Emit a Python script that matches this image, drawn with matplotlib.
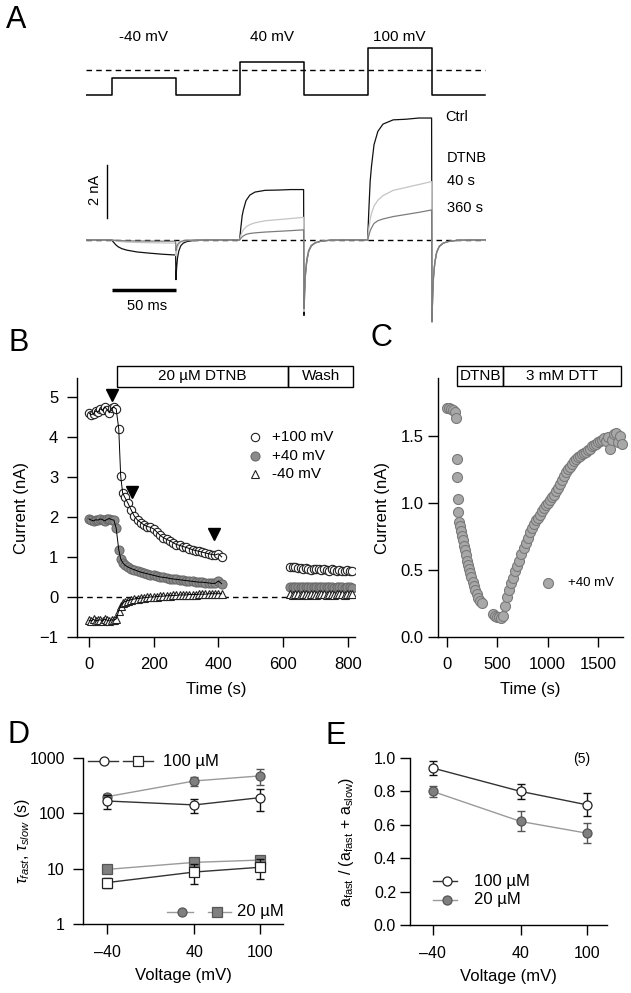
import numpy as np
import matplotlib
matplotlib.use('Agg')
from matplotlib import pyplot as plt
from matplotlib.patches import Rectangle

plt.rcParams['font.family'] = ['Liberation Sans', 'DejaVu Sans']
plt.rcParams['mathtext.fontset'] = 'custom'
plt.rcParams['mathtext.rm'] = 'Liberation Sans'
plt.rcParams['mathtext.it'] = 'Liberation Sans:italic'
plt.rcParams['axes.linewidth'] = 1.0

W, H = 631, 993

# ---------------- A: protocol + current traces ----------------
step_names = ['-40 mV', '40 mV', '100 mV']
step_on = [20, 120, 220]        # ms
step_dur = 50
sweep_end = 312
proto_level = [17, 33, 47]      # schematic step heights above holding
proto_zero = 25

rise_t = [0, 1, 2, 3, 5, 8, 12, 20, 30, 40, 50]
hyp_shape = [0, 0.1, 0.2, 0.3, 0.45, 0.58, 0.68, 0.8, 0.88, 0.95, 1.0]
shape_ctrl = [0, 0.25, 0.48, 0.6, 0.78, 0.89, 0.95, 0.985, 0.99, 1.0, 1.0]
shape_40 = [0, 0.2, 0.35, 0.45, 0.58, 0.68, 0.76, 0.85, 0.9, 0.95, 1.0]
shape_360 = [0, 0.15, 0.3, 0.4, 0.55, 0.64, 0.7, 0.78, 0.85, 0.92, 1.0]
tail_t = [0.3, 0.8, 1.5, 2.5, 4, 6, 9, 13, 20, 30]
tail_frac = [1.0, 0.7, 0.45, 0.28, 0.15, 0.08, 0.04, 0.02, 0.005, 0.0]

amp_ctrl = [-0.57, 1.90, 4.60]
amp_40 = [-0.12, 0.85, 2.20]
amp_360 = [-0.05, 0.38, 1.13]
tail_ctrl = [-1.5, -2.85, -3.05]
tail_40 = [-0.6, -2.7, -3.1]
tail_360 = [-0.4, -2.6, -3.1]

# ---------------- B: time course, 20 uM DTNB ----------------
t_main = np.concatenate([np.arange(0, 85, 7), [92, 98, 104], np.arange(110, 411, 10)])
t_wash = np.arange(622, 815, 8)
i100 = [4.60, 4.55, 4.58, 4.65, 4.62, 4.70, 4.66, 4.75, 4.68, 4.60, 4.72, 4.74, 4.70,
        4.20, 3.02, 2.60,
        2.50, 2.35, 2.18, 2.02, 1.92, 1.86, 1.80, 1.76, 1.74, 1.70, 1.62, 1.54, 1.48, 1.44, 1.40,
        1.36, 1.31, 1.29, 1.26, 1.24, 1.21, 1.18, 1.16, 1.14, 1.12, 1.10, 1.08, 1.06, 1.05, 1.08, 1.00]
i40 = [1.95, 1.92, 1.90, 1.93, 1.92, 1.95, 1.93, 1.90, 1.94, 1.96, 1.93, 1.92, 1.72,
       1.18, 0.95, 0.86,
       0.80, 0.75, 0.71, 0.68, 0.65, 0.62, 0.60, 0.58, 0.56, 0.54, 0.52, 0.50, 0.49, 0.48, 0.46,
       0.45, 0.44, 0.43, 0.42, 0.41, 0.40, 0.39, 0.38, 0.37, 0.37, 0.36, 0.35, 0.34, 0.34, 0.40, 0.33]
im40 = [-0.58, -0.60, -0.56, -0.60, -0.58, -0.57, -0.60, -0.55, -0.58, -0.60, -0.57, -0.58, -0.55,
        -0.35, -0.22, -0.15,
        -0.12, -0.09, -0.07, -0.05, -0.04, -0.03, -0.02, -0.01, 0.00, 0.00, 0.01, 0.02, 0.02, 0.03, 0.03,
        0.04, 0.04, 0.05, 0.05, 0.05, 0.06, 0.06, 0.06, 0.07, 0.07, 0.07, 0.08, 0.08, 0.08, 0.08, 0.08]
w100 = [0.76, 0.74, 0.75, 0.72, 0.73, 0.70, 0.72, 0.71, 0.68, 0.70, 0.69, 0.71, 0.67,
        0.70, 0.68, 0.66, 0.69, 0.67, 0.65, 0.68, 0.66, 0.64, 0.67, 0.65, 0.66]
w40 = [0.26, 0.25, 0.26, 0.24, 0.25, 0.26, 0.24, 0.25, 0.25, 0.24, 0.26, 0.25, 0.24,
       0.25, 0.24, 0.25, 0.24, 0.23, 0.25, 0.24, 0.24, 0.23, 0.24, 0.24, 0.23]
wm40 = [0.07, 0.06, 0.07, 0.08, 0.06, 0.07, 0.07, 0.06, 0.08, 0.07, 0.06, 0.07, 0.07,
        0.08, 0.06, 0.07, 0.07, 0.06, 0.07, 0.08, 0.07, 0.06, 0.07, 0.07, 0.07]
arrow_t = [70, 132, 387]
arrow_i = [5.05, 2.63, 1.57]

# ---------------- C: DTNB then 3 mM DTT, +40 mV ----------------
t_c1 = [0, 20, 40, 60, 80, 92, 96, 100, 106, 112, 120, 128, 136, 145, 155, 165, 175, 185, 196, 207,
        218, 230, 242, 255, 268, 282, 297, 312, 330, 350]
i_c1 = [1.71, 1.71, 1.70, 1.69, 1.68, 1.63, 1.33, 1.19, 1.03, 0.93, 0.86, 0.83, 0.79, 0.75, 0.72, 0.68,
        0.65, 0.61, 0.57, 0.54, 0.51, 0.48, 0.45, 0.41, 0.38, 0.35, 0.32, 0.29, 0.27, 0.25]
t_c2 = np.arange(460, 1741, 20)
i_c2 = [0.17, 0.16, 0.15, 0.15, 0.14, 0.16, 0.23, 0.30, 0.35, 0.40,
        0.44, 0.49, 0.53, 0.57, 0.62, 0.66, 0.70, 0.74, 0.78, 0.81,
        0.84, 0.87, 0.89, 0.91, 0.94, 0.96, 0.98, 1.00, 1.02, 1.04,
        1.06, 1.09, 1.11, 1.14, 1.17, 1.20, 1.23, 1.25, 1.27, 1.29,
        1.31, 1.33, 1.34, 1.35, 1.36, 1.37, 1.38, 1.39, 1.40, 1.42,
        1.43, 1.44, 1.45, 1.46, 1.47, 1.48, 1.46, 1.49, 1.40, 1.47,
        1.51, 1.52, 1.45, 1.50, 1.44]

# ---------------- D/E: kinetics vs voltage ----------------
volt = [-40, 40, 100]
tslow_100 = [167, 142, 192]
tslow_100_err = [45, 40, 80]
tslow_20 = [200, 385, 475]
tslow_20_err = [20, 75, 145]
tfast_100 = [5.6, 8.7, 10.6]
tfast_100_err = [1.2, 3.4, 4.2]
tfast_20 = [9.7, 13.0, 14.3]
tfast_20_err = [1.0, 1.5, 1.5]
afrac_100 = [0.94, 0.80, 0.72]
afrac_100_err = [0.04, 0.045, 0.07]
afrac_20 = [0.80, 0.62, 0.55]
afrac_20_err = [0.035, 0.06, 0.06]


def px_axes(x0, y0, x1, y1):
    return fig.add_axes([x0 / W, 1 - y1 / H, (x1 - x0) / W, (y1 - y0) / H])


def style(ax, size, length=7.5, pad=4):
    for s in ['top', 'right']:
        ax.spines[s].set_visible(False)
    ax.tick_params(direction='out', length=length, width=1, labelsize=size, pad=pad)


def build_trace(amps, shape, tails):
    t, v = [0], [0]
    for k in range(3):
        sh = hyp_shape if amps[k] < 0 else shape
        for rt, f in zip(rise_t, sh):
            t.append(step_on[k] + rt)
            v.append(amps[k] * f)
        off = step_on[k] + step_dur
        for tt, f in zip(tail_t, tail_frac):
            t.append(off + tt)
            v.append(tails[k] * f)
    t.append(sweep_end)
    v.append(0)
    return t, v


fig = plt.figure(figsize=(W / 100, H / 100), dpi=100)

gray_dark = '#222222'
fill_b = '#8a8a8a'
fill_c = '#a8a8a8'

# ---- A protocol
axP = px_axes(86, 40, 486, 100)
axP.set_xlim(0, 312.5)
axP.set_ylim(-5, 55)
axP.axis('off')
pt, pv = [0], [0]
for k in range(3):
    pt += [step_on[k], step_on[k], step_on[k] + step_dur, step_on[k] + step_dur]
    pv += [0, proto_level[k], proto_level[k], 0]
pt.append(sweep_end)
pv.append(0)
axP.plot(pt, pv, color='black', lw=1.1)
axP.plot([0, sweep_end], [proto_zero, proto_zero], color='black', lw=1.0, dashes=(4, 3))
for k in range(3):
    axP.text(step_on[k] + step_dur / 2, 58, step_names[k], ha='center', va='center', fontsize=11)

# ---- A traces
axA = px_axes(86, 100, 486, 330)
axA.set_xlim(0, 312.5)
axA.set_ylim(-3.4, 5.28)
axA.axis('off')
axA.plot([0, sweep_end], [0, 0], color='black', lw=1.0, dashes=(4, 3), zorder=1)
for amps, shape, tails, col in [(amp_ctrl, shape_ctrl, tail_ctrl, '#111111'),
                                (amp_40, shape_40, tail_40, '#c4c4c4'),
                                (amp_360, shape_360, tail_360, '#7c7c7c')]:
    tt, vv = build_trace(amps, shape, tails)
    axA.plot(tt, vv, color=col, lw=0.9, zorder=2)
axA.plot([16.4, 16.4], [0.83, 2.83], color='black', lw=1.0)
axA.text(7.0, 1.89, '2 nA', rotation=90, ha='center', va='center', fontsize=10.5)
axA.plot([20, 70], [-1.89, -1.89], color='black', lw=2.5, solid_capstyle='butt')
axA.text(47.7, -2.49, '50 ms', ha='center', va='center', fontsize=10.5)
axA.text(281, 4.64, 'Ctrl', ha='left', va='center', fontsize=10.5)
axA.text(282, 3.09, 'DTNB', ha='left', va='center', fontsize=10.5)
axA.text(282, 2.23, '40 s', ha='left', va='center', fontsize=10.5)
axA.text(282, 1.21, '360 s', ha='left', va='center', fontsize=10.5)

# ---- B
axB = px_axes(77, 378, 355, 637)
style(axB, 12, pad=6)
axB.tick_params(axis='x', pad=7)
axB.set_xlim(-37, 822)
axB.set_ylim(-1, 5.47)
axB.set_xticks([0, 200, 400, 600, 800])
axB.set_yticks([-1, 0, 1, 2, 3, 4, 5])
axB.axhline(0, color='black', lw=1.0, dashes=(4, 3), zorder=1)
axB.plot(t_main, i100, 'o', mfc='white', mec=gray_dark, ms=6, mew=0.8, zorder=3)
axB.plot(t_main, i40, 'o', mfc=fill_b, mec='#6a6a6a', ms=6.5, mew=0.8, zorder=3)
axB.plot(t_main, im40, '^', mfc='white', mec=gray_dark, ms=6, mew=0.8, zorder=3)
for series in [i100, i40, im40]:
    axB.plot(t_main, series, color='black', lw=0.7, zorder=4)
axB.plot(t_wash, w100, 'o', mfc='white', mec=gray_dark, ms=6, mew=0.8, zorder=3)
axB.plot(t_wash, w40, 'o', mfc=fill_b, mec='#6a6a6a', ms=6.5, mew=0.8, zorder=3)
axB.plot(t_wash, wm40, '^', mfc='white', mec=gray_dark, ms=6, mew=0.8, zorder=3)
axB.plot(arrow_t, arrow_i, 'v', color='black', ms=9, zorder=5)
axB.plot([512], [3.99], 'o', mfc='white', mec=gray_dark, ms=6, mew=0.8, clip_on=False)
axB.plot([512], [3.53], 'o', mfc=fill_b, mec='#6a6a6a', ms=6.5, mew=0.8, clip_on=False)
axB.plot([512], [3.08], '^', mfc='white', mec=gray_dark, ms=6, mew=0.8, clip_on=False)
axB.text(566, 3.99, '+100 mV', va='center', fontsize=11)
axB.text(566, 3.53, '+40 mV', va='center', fontsize=11)
axB.text(566, 3.08, '-40 mV', va='center', fontsize=11)
axB.add_patch(Rectangle((87, 5.25), 616 - 87, 0.53, fill=False, lw=1, clip_on=False))
axB.add_patch(Rectangle((616, 5.25), 817 - 616, 0.53, fill=False, lw=1, clip_on=False))
axB.text((87 + 616) / 2, 5.515, '20 µM DTNB', ha='center', va='center', fontsize=11)
axB.text((616 + 817) / 2, 5.515, 'Wash', ha='center', va='center', fontsize=11)
axB.text(-0.2, 0.5, 'Current (nA)', rotation=90, ha='center', va='center',
         transform=axB.transAxes, fontsize=12)
axB.set_xlabel('Time (s)', fontsize=12, labelpad=7)

# ---- C
axC = px_axes(438, 378, 623, 637)
style(axC, 12, pad=3)
axC.tick_params(axis='x', pad=7)
axC.set_xlim(-89, 1748)
axC.set_ylim(0, 1.93)
axC.set_xticks([0, 500, 1000, 1500])
axC.set_yticks([0, 0.5, 1.0, 1.5])
axC.set_yticklabels(['0.0', '0.5', '1.0', '1.5'])
axC.plot(t_c1, i_c1, 'o', mfc=fill_c, mec='#7a7a7a', ms=7.2, mew=0.8, clip_on=False)
axC.plot(t_c2, i_c2, 'o', mfc=fill_c, mec='#7a7a7a', ms=7.2, mew=0.8, clip_on=False)
axC.plot([1003], [0.403], 'o', mfc=fill_c, mec='#7a7a7a', ms=7.2, mew=0.8)
axC.text(1201, 0.403, '+40 mV', va='center', fontsize=9.5)
axC.add_patch(Rectangle((100, 1.87), 460, 0.15, fill=False, lw=1, clip_on=False))
axC.add_patch(Rectangle((560, 1.87), 1170, 0.15, fill=False, lw=1, clip_on=False))
axC.text(330, 1.945, 'DTNB', ha='center', va='center', fontsize=11)
axC.text(1145, 1.945, '3 mM DTT', ha='center', va='center', fontsize=11)
axC.text(-0.3, 0.5, 'Current (nA)', rotation=90, ha='center', va='center',
         transform=axC.transAxes, fontsize=12)
axC.set_xlabel('Time (s)', fontsize=12, labelpad=7)

# ---- D
axD = px_axes(83, 758, 283, 924)
style(axD, 11.5, length=7, pad=6)
axD.set_yscale('log')
axD.set_xlim(-62, 121)
axD.set_ylim(1, 1000)
axD.set_xticks(volt)
axD.set_xticklabels(['–40', '40', '100'])
axD.set_yticks([1, 10, 100, 1000])
axD.set_yticklabels(['1', '10', '100', '1000'])
axD.minorticks_off()
axD.tick_params(axis='x', pad=8)
open_kw = dict(mfc='white', mec=gray_dark, ms=6.5, mew=0.9)
fill_kw = dict(mfc='#7f7f7f', mec='#555555', ms=6.5, mew=0.9)
for vals, err, mk, kw, lc, ec in [(tslow_20, tslow_20_err, 'o', fill_kw, '#9a9a9a', '#555555'),
                                  (tfast_20, tfast_20_err, 's', fill_kw, '#9a9a9a', '#555555'),
                                  (tslow_100, tslow_100_err, 'o', open_kw, '#333333', '#111111'),
                                  (tfast_100, tfast_100_err, 's', open_kw, '#333333', '#111111')]:
    axD.errorbar(volt, vals, yerr=err, fmt='none', ecolor=ec, elinewidth=1, capsize=3, capthick=1)
    axD.plot(volt, vals, '-', color=lc, lw=1)
    axD.plot(volt, vals, mk, **kw)
axD.plot([-57.5, -29.9], [881, 881], color='#333333', lw=1, clip_on=False)
axD.plot([-25.3, 2.3], [881, 881], color='#333333', lw=1, clip_on=False)
axD.plot([-42.8], [881], 'o', clip_on=False, **open_kw)
axD.plot([-11.5], [881], 's', clip_on=False, **open_kw)
axD.text(11.5, 881, '100 µM', va='center', fontsize=12)
axD.plot([15.2, 38.2], [1.67, 1.67], color='#9a9a9a', lw=1)
axD.plot([52, 73], [1.67, 1.67], color='#9a9a9a', lw=1)
axD.plot([28.7], [1.67], 'o', **fill_kw)
axD.plot([60.2], [1.67], 's', **fill_kw)
axD.text(79.3, 1.67, '20 µM', va='center', fontsize=12)
axD.text(-0.305, 0.5, r'$\tau_{fast}$, $\tau_{slow}$ (s)', rotation=90, ha='center', va='center',
         transform=axD.transAxes, fontsize=11.5)
axD.set_xlabel('Voltage (mV)', fontsize=12, labelpad=6)

# ---- E
axE = px_axes(410, 758, 607, 925)
style(axE, 11.5, length=7, pad=3)
axE.set_xlim(-60.6, 118.5)
axE.set_ylim(0, 1.0)
axE.set_xticks(volt)
axE.set_xticklabels(['–40', '40', '100'])
axE.set_yticks([0, 0.2, 0.4, 0.6, 0.8, 1.0])
axE.set_yticklabels(['0.0', '0.2', '0.4', '0.6', '0.8', '1.0'])
axE.tick_params(axis='x', pad=8)
for vals, err, kw, lc, ec in [(afrac_20, afrac_20_err, fill_kw, '#9a9a9a', '#555555'),
                              (afrac_100, afrac_100_err, open_kw, '#333333', '#111111')]:
    axE.errorbar(volt, vals, yerr=err, fmt='none', ecolor=ec, elinewidth=1, capsize=3, capthick=1)
    axE.plot(volt, vals, '-', color=lc, lw=1)
    axE.plot(volt, vals, 'o', **kw)
axE.plot([-39.5, -18], [0.263, 0.263], color='#333333', lw=1)
axE.plot([-27], [0.263], 'o', **open_kw)
axE.text(-2.7, 0.263, '100 µM', va='center', fontsize=12)
axE.plot([-39.5, -18], [0.15, 0.15], color='#9a9a9a', lw=1)
axE.plot([-27], [0.15], 'o', **fill_kw)
axE.text(-2.7, 0.15, '20 µM', va='center', fontsize=12)
axE.text(95.3, 0.992, '(5)', ha='center', va='center', fontsize=10)
axE.text(-0.32, 0.5, r'$\mathrm{a_{fast}}$ / ($\mathrm{a_{fast}}$ + $\mathrm{a_{slow}}$)', rotation=90,
         ha='center', va='center', transform=axE.transAxes, fontsize=11.5)
axE.set_xlabel('Voltage (mV)', fontsize=12, labelpad=6)

# ---- panel letters
for letter, x, y in [('A', 16, 20), ('B', 19, 343), ('C', 381, 338), ('D', 19, 735), ('E', 336, 736)]:
    fig.text(x / W, 1 - y / H, letter, ha='center', va='center', fontsize=22)

fig.savefig('out.png', dpi=100)
